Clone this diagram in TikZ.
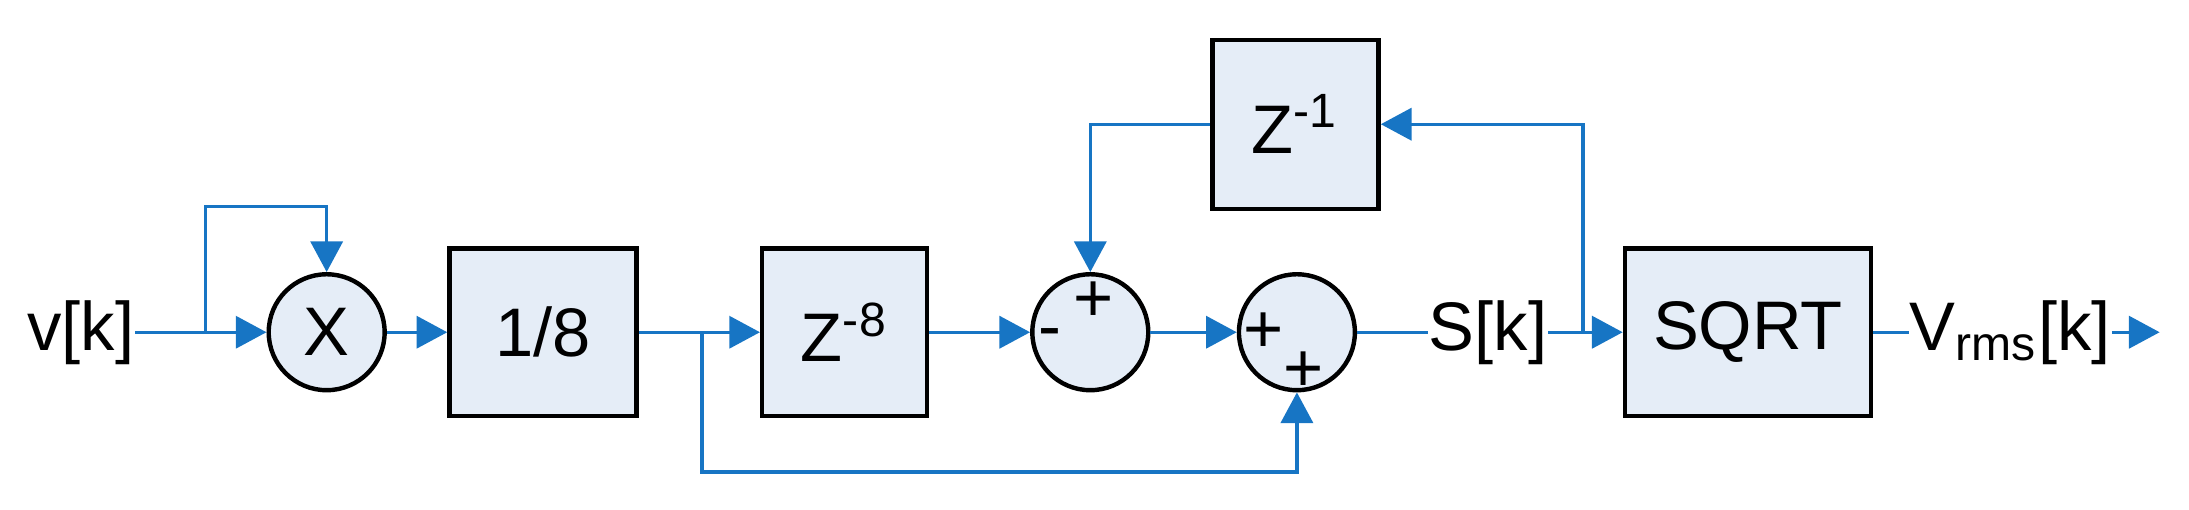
\documentclass[tikz,border=0pt]{standalone}
\usepackage{fontspec}
\setmainfont{Liberation Sans}
\usetikzlibrary{arrows.meta,positioning}
\definecolor{lineblue}{RGB}{23,117,196}
\definecolor{boxfill}{RGB}{229,237,247}
\begin{document}
\begin{tikzpicture}[
    x=0.01cm, y=-0.01cm,
    font=\fontsize{14}{16}\selectfont,
    block/.style={rectangle, draw=black, line width=0.9pt, fill=boxfill, inner sep=0pt},
    sum/.style={circle, draw=black, line width=0.9pt, fill=boxfill, minimum size=0.83cm, inner sep=0pt},
    sign/.style={font=\fontsize{14}{16}\selectfont, inner sep=0pt},
    arrow/.style={-{Triangle[length=2.2mm,width=2.3mm]}, draw=lineblue, line width=0.7pt},
    wire/.style={draw=lineblue, line width=0.7pt}
]
\useasboundingbox (0,0) rectangle (1568,365);

% Blocks
\node [block, minimum width=1.34cm, minimum height=1.2cm] (div) at (389,238) {1/8};
\node [block, minimum width=1.18cm, minimum height=1.2cm] (delay8) at (605,238) {Z\textsuperscript{-8}};
\node [block, minimum width=1.19cm, minimum height=1.21cm] (delay1) at (928,89) {Z\textsuperscript{-1}};
\node [block, minimum width=1.76cm, minimum height=1.2cm] (sqrt) at (1252,238) {SQRT};

% Summing and multiplying junctions
\node [sum] (mult) at (234,238) {X};
\node [sum] (sub) at (781,238) {};
\node [sum] (add) at (929,238) {};
\node [sign] at (783,216) {+};
\node [sign] at (752,243) {-};
\node [sign] at (905,238) {+};
\node [sign] at (934,266) {+};

% Signals
\node [inner sep=0pt] (vin) at (58,238) {v[k]};
\node [inner sep=0pt] (sk) at (1066,238) {S[k]};
\node [inner sep=0pt] (vrms) at (1440,238) {V\textsubscript{rms}[k]};
\coordinate (out) at (1547,238);
\coordinate (tap1) at (147,238);
\coordinate (tap2) at (503,238);
\coordinate (tap3) at (1134,238);

% Forward path
\draw [arrow] (vin) -- (mult);
\draw [arrow] (mult) -- (div);
\draw [arrow] (div) -- (delay8);
\draw [arrow] (delay8) -- (sub);
\draw [arrow] (sub) -- (add);
\draw [wire] (add) -- (sk);
\draw [arrow] (sk) -- (sqrt);
\draw [wire] (sqrt) -- (vrms);
\draw [arrow] (vrms) -- (out);

% Feedback and feedforward paths
\draw [arrow] (tap1) |- (234,148) -- (mult);
\draw [arrow] (tap2) |- (929,338) -- (add);
\draw [arrow] (tap3) |- (delay1);
\draw [arrow] (delay1) -| (sub);

\end{tikzpicture}
\end{document}
